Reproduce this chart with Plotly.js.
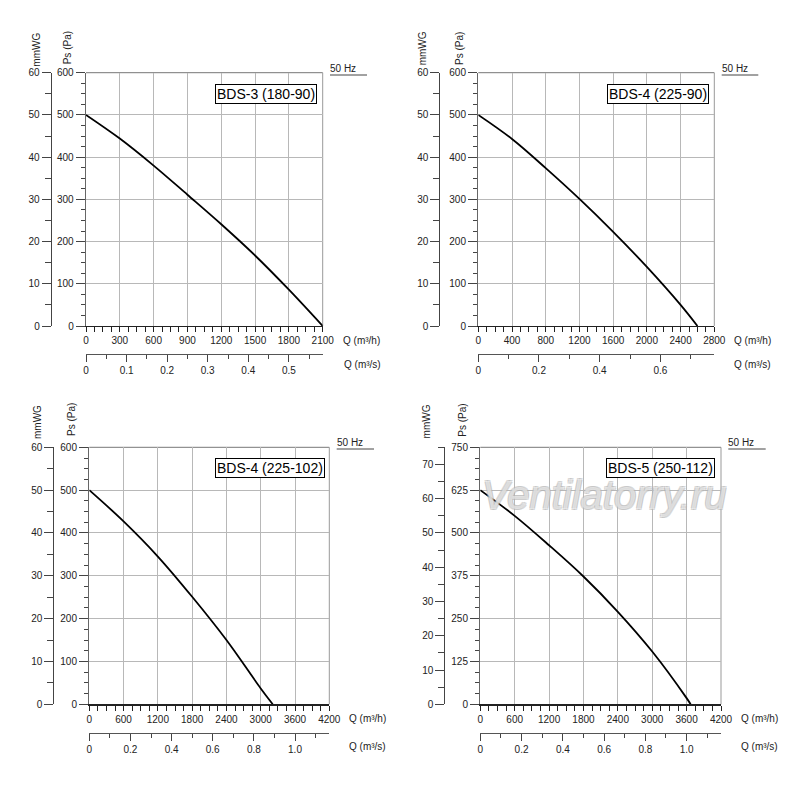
<!DOCTYPE html>
<html>
<head>
<meta charset="utf-8">
<script src="https://cdn.plot.ly/plotly-3.0.1.min.js"></script>
<style>html,body{margin:0;padding:0;background:#fff;}#chart{width:800px;height:789px;}</style>
</head>
<body>
<div id="chart"></div>
<script>
// ---- Data ----
const titles = ['BDS-3 (180-90)', 'BDS-4 (225-90)', 'BDS-4 (225-102)', 'BDS-5 (250-112)'];

const q_bds3 = [0, 300, 600, 900, 1200, 1500, 1800, 2100];
const ps_bds3 = [500, 444, 380, 311, 241, 167, 86, 0];

const q_bds4a = [0, 400, 800, 1200, 1600, 2000, 2400, 2600];
const ps_bds4a = [500, 443, 374, 301, 223, 140, 50, 0];

const q_bds4b = [0, 600, 1200, 1800, 2400, 3000, 3210];
const ps_bds4b = [500, 427, 345, 251, 150, 37, 0];

const q_bds5 = [0, 600, 1200, 1800, 2400, 3000, 3600, 3670];
const ps_bds5 = [625, 550, 464, 373, 270, 154, 18, 0];

// axis extents
const qMax = [2100, 2800, 4200, 4200];
const psMax = [600, 600, 600, 750];
const mmMax = [60, 60, 60, 75];

// m3/s tick labels
const sTicks1 = [0, 0.1, 0.2, 0.3, 0.4, 0.5];
const sText1 = ['0', '0.1', '0.2', '0.3', '0.4', '0.5'];
const sTicks2 = [0, 0.2, 0.4, 0.6];
const sText2 = ['0', '0.2', '0.4', '0.6'];
const sTicks3 = [0, 0.2, 0.4, 0.6, 0.8, 1.0];
const sText3 = ['0', '0.2', '0.4', '0.6', '0.8', '1.0'];

const M3H_PER_M3S = 3600;
const PA_PER_MMWG = 10;

// ---- Layout helpers (positions in pixels) ----
const W = 800, H = 789;
const fx = p => p / W;
const fy = p => 1 - p / H;
const FONT = 'Liberation Sans, Arial, sans-serif';

const panels = [
  {q: q_bds3, ps: ps_bds3, qdt: 300, qminor: 75, psdt: 100, psminor: 25, mmdt: 10, mmminor: 5,
   sT: sTicks1, sX: sText1, sMinor: 0.05,
   box: {l: 86, r: 322.7, t: 72.7, b: 326}, mmx: 50.7, sy: 354.3,
   mmLab: [36.7, 50], psLab: [68.3, 48], hz: [330, 68, 367, 75], title: [317, 94],
   qh: [342, 340], qs: [343, 365]},
  {q: q_bds4a, ps: ps_bds4a, qdt: 400, qminor: 100, psdt: 100, psminor: 25, mmdt: 10, mmminor: 5,
   sT: sTicks2, sX: sText2, sMinor: 0.1,
   box: {l: 478.3, r: 714.3, t: 72.7, b: 326}, mmx: 439.3, sy: 354.3,
   mmLab: [423.3, 48], psLab: [460, 48], hz: [721.7, 68, 758.3, 75], title: [709.3, 93.5],
   qh: [733.3, 340], qs: [733.3, 365]},
  {q: q_bds4b, ps: ps_bds4b, qdt: 600, qminor: 150, psdt: 100, psminor: 25, mmdt: 10, mmminor: 5,
   sT: sTicks3, sX: sText3, sMinor: 0.1,
   box: {l: 89.3, r: 329.3, t: 447.3, b: 704.3}, mmx: 53.3, sy: 732.7,
   mmLab: [37.3, 421.7], psLab: [71, 420], hz: [336.7, 442.7, 374, 449], title: [325, 468],
   qh: [348.3, 718.3], qs: [348.3, 746.7]},
  {q: q_bds5, ps: ps_bds5, qdt: 600, qminor: 150, psdt: 125, psminor: 31.25, mmdt: 10, mmminor: 5,
   sT: sTicks3, sX: sText3, sMinor: 0.1,
   box: {l: 480.3, r: 721, t: 447.3, b: 704.3}, mmx: 444.3, sy: 732.7,
   mmLab: [426.7, 421.7], psLab: [461.7, 420], hz: [728.3, 442.7, 765.7, 449], title: [715, 468],
   qh: [740, 718.3], qs: [740, 746.7]}
];

const data = [];
const layout = {
  width: W, height: H,
  margin: {l: 0, r: 0, t: 0, b: 0},
  paper_bgcolor: '#fff', plot_bgcolor: '#fff',
  showlegend: false,
  font: {family: FONT, size: 10, color: '#222'},
  annotations: [], shapes: []
};

const tickFont = {family: FONT, size: 10, color: '#222'};

// watermark (drawn first so panel titles sit on top)
layout.annotations.push({xref: 'paper', yref: 'paper', x: fx(604), y: fy(495), text: 'Ventilatorry.ru',
  showarrow: false, xanchor: 'center', yanchor: 'middle',
  font: {family: FONT, size: 40, color: 'rgba(255,255,255,0.5)', style: 'italic',
    shadow: '1px 1px 0 #b4b4b4, -1px -1px 0 #b4b4b4, 1px -1px 0 #b4b4b4, -1px 1px 0 #b4b4b4'}});

panels.forEach((p, i) => {
  const xa = 'x' + (4 * i + 1), xs = 'x' + (4 * i + 2);
  const ya = 'y' + (4 * i + 1), ym = 'y' + (4 * i + 2);
  const xaK = 'xaxis' + (4 * i + 1), xsK = 'xaxis' + (4 * i + 2);
  const yaK = 'yaxis' + (4 * i + 1), ymK = 'yaxis' + (4 * i + 2);
  const xdom = [fx(p.box.l), fx(p.box.r)];
  const ydom = [fy(p.box.b), fy(p.box.t)];

  // main curve
  data.push({
    type: 'scatter', mode: 'lines', x: p.q, y: p.ps, xaxis: xa, yaxis: ya,
    line: {color: '#000', width: 1.8, shape: 'spline', smoothing: 1},
    hoverinfo: 'x+y'
  });
  // same curve expressed in m3/s (keeps the secondary x axis alive)
  data.push({
    type: 'scatter', mode: 'lines', x: p.q.map(v => v / M3H_PER_M3S), y: p.ps, xaxis: xs, yaxis: ya,
    line: {color: 'rgba(0,0,0,0)', width: 0}, hoverinfo: 'skip'
  });
  // same curve expressed in mmWG (keeps the secondary y axis alive)
  data.push({
    type: 'scatter', mode: 'lines', x: p.q, y: p.ps.map(v => v / PA_PER_MMWG), xaxis: xa, yaxis: ym,
    line: {color: 'rgba(0,0,0,0)', width: 0}, hoverinfo: 'skip'
  });

  layout[xaK] = {
    domain: xdom, anchor: ya, range: [0, qMax[i]], autorange: false, fixedrange: true,
    tickmode: 'linear', tick0: 0, dtick: p.qdt,
    ticks: 'outside', ticklen: 5, tickwidth: 1, tickcolor: '#222',
    showline: true, linecolor: '#222', linewidth: 1.2, mirror: false,
    showgrid: true, gridcolor: '#b8b8b8', gridwidth: 1, zeroline: false,
    tickfont: tickFont,
    minor: {tickmode: 'linear', tick0: 0, dtick: p.qminor, ticks: 'outside', ticklen: 5, tickcolor: '#222', showgrid: false}
  };
  layout[xsK] = {
    domain: xdom, overlaying: xa, anchor: 'free', position: fy(p.sy), side: 'bottom',
    range: [0, qMax[i] / M3H_PER_M3S], autorange: false, fixedrange: true,
    tickmode: 'array', tickvals: p.sT, ticktext: p.sX,
    ticks: 'outside', ticklen: 7, tickwidth: 1, tickcolor: '#444',
    showline: true, linecolor: '#555', linewidth: 1,
    showgrid: false, zeroline: false, tickfont: tickFont,
    minor: {tickmode: 'linear', tick0: 0, dtick: p.sMinor, ticks: 'outside', ticklen: 4, tickcolor: '#444', showgrid: false}
  };
  layout[yaK] = {
    domain: ydom, anchor: xa, range: [0, psMax[i]], autorange: false, fixedrange: true,
    tickmode: 'linear', tick0: 0, dtick: p.psdt,
    ticks: 'outside', ticklen: 9, tickwidth: 1, tickcolor: '#444',
    showline: true, linecolor: '#666', linewidth: 1.3, mirror: false,
    showgrid: true, gridcolor: '#b8b8b8', gridwidth: 1, zeroline: false,
    tickfont: tickFont,
    minor: {tickmode: 'linear', tick0: 0, dtick: p.psminor, ticks: 'outside', ticklen: 4, tickcolor: '#444', showgrid: false}
  };
  layout[ymK] = {
    domain: ydom, overlaying: ya, anchor: 'free', position: fx(p.mmx), side: 'left',
    range: [0, mmMax[i]], autorange: false, fixedrange: true,
    tickmode: 'linear', tick0: 0, dtick: p.mmdt,
    ticks: 'outside', ticklen: 9, tickwidth: 1, tickcolor: '#444',
    showline: true, linecolor: '#444', linewidth: 1,
    showgrid: false, zeroline: false, tickfont: tickFont,
    minor: {tickmode: 'linear', tick0: 0, dtick: p.mmminor, ticks: 'outside', ticklen: 6, tickcolor: '#444', showgrid: false}
  };

  // top and right frame edges
  layout.shapes.push({type: 'line', xref: xa + ' domain', yref: ya + ' domain', x0: 0, x1: 1, y0: 1, y1: 1,
    line: {color: '#777', width: 1}, layer: 'below'});
  layout.shapes.push({type: 'line', xref: xa + ' domain', yref: ya + ' domain', x0: 1, x1: 1, y0: 0, y1: 1,
    line: {color: '#999', width: 1}, layer: 'below'});

  const ann = layout.annotations;
  ann.push({xref: 'paper', yref: 'paper', x: fx(p.mmLab[0]), y: fy(p.mmLab[1]), text: 'mmWG',
    textangle: -90, showarrow: false, xanchor: 'center', yanchor: 'middle', font: {family: FONT, size: 10, color: '#222'}});
  ann.push({xref: 'paper', yref: 'paper', x: fx(p.psLab[0]), y: fy(p.psLab[1]), text: 'Ps (Pa)',
    textangle: -90, showarrow: false, xanchor: 'center', yanchor: 'middle', font: {family: FONT, size: 10, color: '#222'}});
  ann.push({xref: 'paper', yref: 'paper', x: fx(p.hz[0] - 2), y: fy(p.hz[1]), text: '50 Hz',
    showarrow: false, xanchor: 'left', yanchor: 'middle', font: {family: FONT, size: 10, color: '#222'}});
  ann.push({xref: 'paper', yref: 'paper', x: fx(p.title[0]), y: fy(p.title[1]), text: titles[i],
    showarrow: false, xanchor: 'right', yanchor: 'middle', bgcolor: '#fff', bordercolor: '#000',
    borderwidth: 1, borderpad: 1, font: {family: FONT, size: 14, color: '#000'}});
  ann.push({xref: 'paper', yref: 'paper', x: fx(p.qh[0] - 1), y: fy(p.qh[1]), text: 'Q (m³/h)',
    showarrow: false, xanchor: 'left', yanchor: 'middle', font: {family: FONT, size: 10, color: '#222'}});
  ann.push({xref: 'paper', yref: 'paper', x: fx(p.qs[0] - 1), y: fy(p.qs[1]), text: 'Q (m³/s)',
    showarrow: false, xanchor: 'left', yanchor: 'middle', font: {family: FONT, size: 10, color: '#222'}});

  layout.shapes.push({type: 'line', xref: 'paper', yref: 'paper',
    x0: fx(p.hz[0]), x1: fx(p.hz[2]), y0: fy(p.hz[3]), y1: fy(p.hz[3]),
    line: {color: '#444', width: 1}});
});

Plotly.newPlot('chart', data, layout, {displayModeBar: false, staticPlot: true});
</script>
</body>
</html>
